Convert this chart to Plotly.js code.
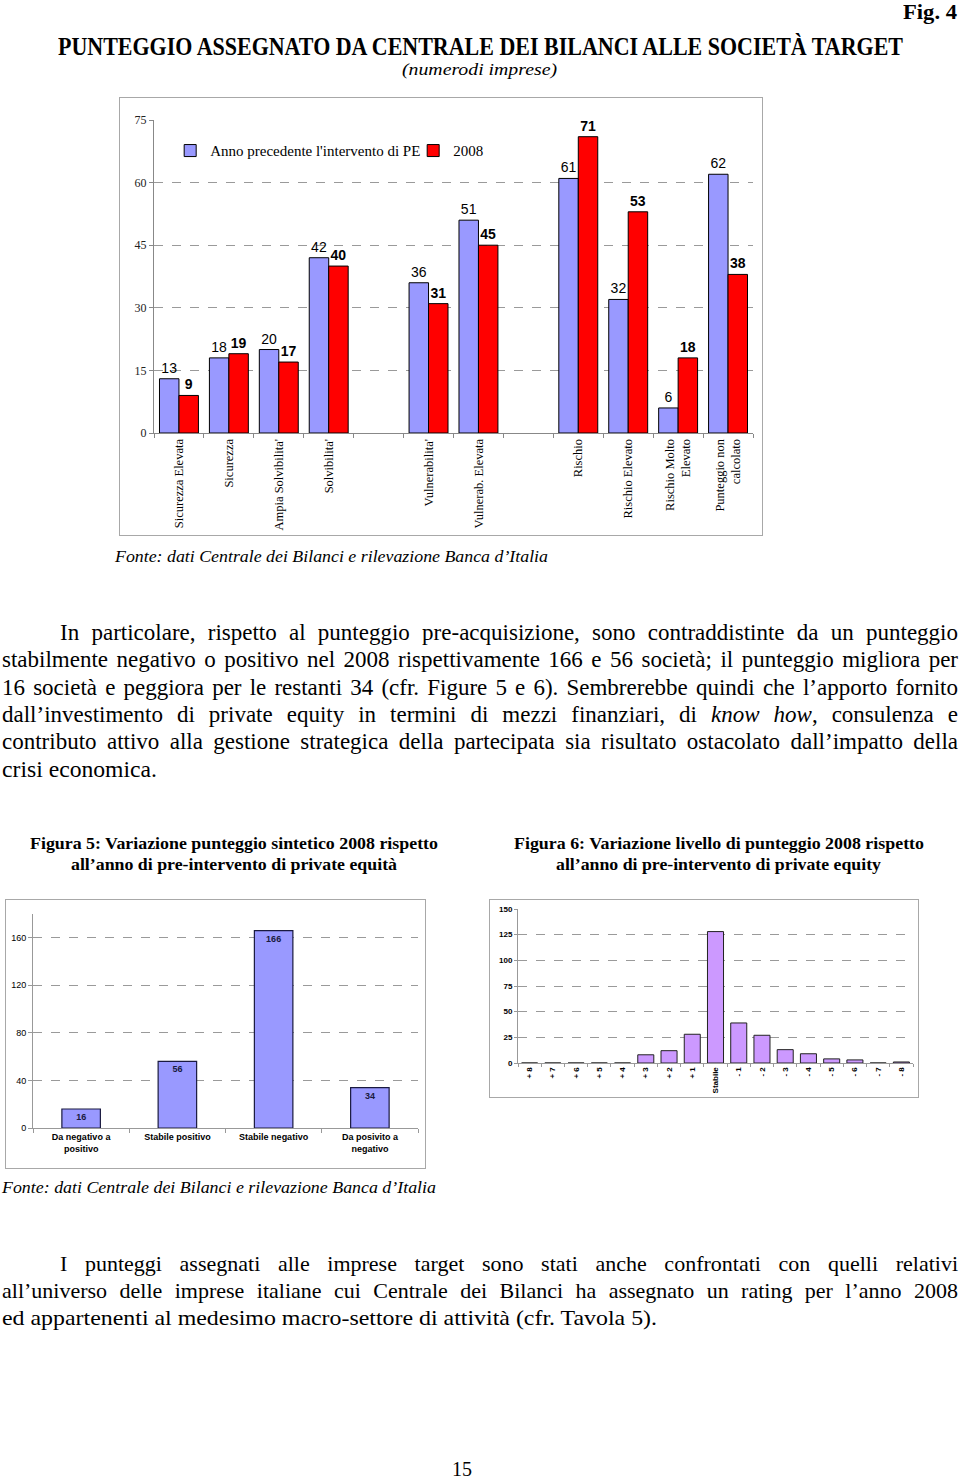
<!DOCTYPE html>
<html>
<head>
<meta charset="utf-8">
<script src="https://cdn.plot.ly/plotly-3.0.1.min.js"></script>
<style>
  html, body { margin:0; padding:0; background:#fff; }
  body { width:960px; height:1478px; position:relative; overflow:hidden;
         font-family:"Liberation Serif","Times New Roman",serif; color:#000; }
  .t { position:absolute; white-space:nowrap; line-height:1; transform-origin:0 0; }
  .jl { position:absolute; text-align:justify; text-align-last:justify; white-space:normal; }
  .plot { position:absolute; }
  .frame { position:absolute; border:1px solid #a8a8a8; box-sizing:border-box; pointer-events:none; }
</style>
</head>
<body>

<!-- Headings -->
<div class="t" style="left:903px; top:1px; font-size:22px; font-weight:bold;" data-w="54">Fig. 4</div>
<div class="t" style="left:58px; top:34px; font-size:25px; font-weight:bold;" data-w="845">PUNTEGGIO ASSEGNATO DA CENTRALE DEI BILANCI ALLE SOCIETÀ TARGET</div>
<div class="t" style="left:402px; top:61px; font-size:17px; font-style:italic;" data-w="155">(numerodi imprese)</div>

<!-- Figure 4 chart -->
<div id="fig4" class="plot" style="left:119px; top:98px; width:643px; height:437px;"></div>
<div class="frame" style="left:119px; top:97px; width:644px; height:439px;"></div>

<div class="t" style="left:115px; top:547.5px; font-size:17px; font-style:italic;" data-w="433">Fonte: dati Centrale dei Bilanci e rilevazione Banca d’Italia</div>

<!-- Paragraph 1 -->
<div class="jl" style="left:60px; width:898px; top:620.7px; font-size:23px; line-height:23px;">In particolare, rispetto al punteggio pre-acquisizione, sono contraddistinte da un punteggio</div>
<div class="jl" style="left:2px; width:956px; top:648.1px; font-size:23px; line-height:23px;">stabilmente negativo o positivo nel 2008 rispettivamente 166 e 56 società; il punteggio migliora per</div>
<div class="jl" style="left:2px; width:956px; top:675.5px; font-size:23px; line-height:23px;">16 società e peggiora per le restanti 34 (cfr. Figure 5 e 6). Sembrerebbe quindi che l’apporto fornito</div>
<div class="jl" style="left:2px; width:956px; top:702.9px; font-size:23px; line-height:23px;">dall’investimento di private equity in termini di mezzi finanziari, di <i>know how</i>, consulenza e</div>
<div class="jl" style="left:2px; width:956px; top:730.3px; font-size:23px; line-height:23px;">contributo attivo alla gestione strategica della partecipata sia risultato ostacolato dall’impatto della</div>
<div class="t" style="left:2px; top:757.7px; font-size:23px;" data-w="155">crisi economica.</div>

<!-- Captions -->
<div class="t" style="left:30px; top:835.4px; font-size:17.5px; font-weight:bold;" data-w="408">Figura 5: Variazione punteggio sintetico 2008 rispetto</div>
<div class="t" style="left:71px; top:856.4px; font-size:17.5px; font-weight:bold;" data-w="326">all’anno di pre-intervento di private equità</div>
<div class="t" style="left:514px; top:835.4px; font-size:17.5px; font-weight:bold;" data-w="410">Figura 6: Variazione livello di punteggio 2008 rispetto</div>
<div class="t" style="left:556px; top:856.4px; font-size:17.5px; font-weight:bold;" data-w="325">all’anno di pre-intervento di private equity</div>

<!-- Figure 5 chart -->
<div id="fig5" class="plot" style="left:5px; top:899px; width:420px; height:269px;"></div>
<div class="frame" style="left:5px; top:899px; width:421px; height:270px;"></div>

<!-- Figure 6 chart -->
<div id="fig6" class="plot" style="left:490px; top:899px; width:428px; height:198px;"></div>
<div class="frame" style="left:489px; top:899px; width:430px; height:199px;"></div>

<div class="t" style="left:2px; top:1179px; font-size:17px; font-style:italic;" data-w="434">Fonte: dati Centrale dei Bilanci e rilevazione Banca d’Italia</div>

<!-- Paragraph 2 -->
<div class="jl" style="left:60px; width:898px; top:1252.6px; font-size:22px; line-height:22px;">I punteggi assegnati alle imprese target sono stati anche confrontati con quelli relativi</div>
<div class="jl" style="left:2px; width:956px; top:1279.6px; font-size:22px; line-height:22px;">all’universo delle imprese italiane cui Centrale dei Bilanci ha assegnato un rating per l’anno 2008</div>
<div class="t" style="left:2px; top:1306.6px; font-size:22px;" data-w="655">ed appartenenti al medesimo macro-settore di attività (cfr. Tavola 5).</div>

<div class="t" style="left:452px; top:1459.3px; font-size:20px;">15</div>

<script>
// ---------------- Figure 4 data ----------------
const fig4Categories = ["Sicurezza Elevata", "Sicurezza", "Ampia Solvibilita'", "Solvibilita'",
  "Vulnerabilita'", "Vulnerab. Elevata", "Rischio", "Rischio Elevato",
  "Rischio Molto<br>Elevato", "Punteggio non<br>calcolato"];
const fig4AxisOrder = ["Sicurezza Elevata", "Sicurezza", "Ampia Solvibilita'", "Solvibilita'", " ",
  "Vulnerabilita'", "Vulnerab. Elevata", "  ", "Rischio", "Rischio Elevato",
  "Rischio Molto<br>Elevato", "Punteggio non<br>calcolato"];
const fig4SeriesNames = ["Anno precedente l'intervento di PE", "2008"];
const fig4Before = [13, 18, 20, 42, 36, 51, 61, 32, 6, 62];
const fig4Year2008 = [9, 19, 17, 40, 31, 45, 71, 53, 18, 38];
const fig4YTicks = [0, 15, 30, 45, 60, 75];

// ---------------- Figure 5 data ----------------
const fig5Categories = ["Da negativo a<br>positivo", "Stabile positivo", "Stabile negativo", "Da posivito a<br>negativo"];
const fig5Values = [16, 56, 166, 34];
const fig5YTicks = [0, 40, 80, 120, 160];

// ---------------- Figure 6 data ----------------
const fig6Categories = ["+ 8", "+ 7", "+ 6", "+ 5", "+ 4", "+ 3", "+ 2", "+ 1", "Stabile",
  "- 1", "- 2", "- 3", "- 4", "- 5", "- 6", "- 7", "- 8"];
const fig6Values = [0, 0, 0, 0, 0, 8, 12, 28, 128, 39, 27, 13, 9, 4, 3, 0, 1];
const fig6YTicks = [0, 25, 50, 75, 100, 125, 150];

const SERIF = "Liberation Serif, Times New Roman, serif";
const SANS = "Liberation Sans, Arial, sans-serif";
const cfg = {displayModeBar: false, staticPlot: true};

// ---------- Fig 4 ----------
Plotly.newPlot('fig4', [
  {
    type: 'bar', name: fig4SeriesNames[0], x: fig4Categories, y: fig4Before,
    marker: {color: '#9999FF', line: {color: '#000000', width: 1}},
    texttemplate: '%{y}', textposition: 'outside', cliponaxis: false, constraintext: 'none',
    textfont: {family: SANS, size: 14, color: '#000'}
  },
  {
    type: 'bar', name: fig4SeriesNames[1], x: fig4Categories, y: fig4Year2008,
    marker: {color: '#FF0000', line: {color: '#000000', width: 1}},
    texttemplate: '<b>%{y}</b>', textposition: 'outside', cliponaxis: false, constraintext: 'none',
    textfont: {family: SANS, size: 14, color: '#000'}
  }
], {
  width: 643, height: 437,
  margin: {l: 35, r: 9, t: 22, b: 102, pad: 0},
  paper_bgcolor: 'rgba(0,0,0,0)', plot_bgcolor: '#ffffff',
  barmode: 'group', bargap: 0.22, bargroupgap: 0,
  showlegend: true,
  legend: {orientation: 'h', x: 0.027, xanchor: 'left', y: 0.9016, yanchor: 'middle',
           font: {family: SERIF, size: 15, color: '#000'}, bgcolor: 'rgba(0,0,0,0)',
           traceorder: 'normal', itemwidth: 30, entrywidth: 198, entrywidthmode: 'pixels'},
  font: {family: SERIF, color: '#000'},
  xaxis: {type: 'category', categoryorder: 'array', categoryarray: fig4AxisOrder,
          tickangle: -90, tickfont: {family: SERIF, size: 12.5, color: '#000'},
          ticks: 'outside', tickson: 'boundaries', ticklen: 4, tickcolor: '#888',
          showline: true, linecolor: '#888', linewidth: 1, showgrid: false, fixedrange: true},
  yaxis: {range: [0, 75], tickvals: fig4YTicks, tickfont: {family: SERIF, size: 12, color: '#222'},
          ticks: 'outside', ticklen: 4, tickcolor: '#888', showline: true, linecolor: '#888',
          showgrid: true, gridcolor: '#9a9a9a', griddash: 'dash', gridwidth: 1, zeroline: false}
}, cfg);

// ---------- Fig 5 ----------
Plotly.newPlot('fig5', [{
  type: 'bar', x: fig5Categories, y: fig5Values,
  marker: {color: '#9999FF', line: {color: '#1a1a40', width: 1.2}},
  texttemplate: '<b>%{y}</b>', textposition: 'inside', insidetextanchor: 'end', constraintext: 'none',
  textfont: {family: SANS, size: 9, color: '#1a1a40'}
}], {
  width: 420, height: 269,
  margin: {l: 28, r: 7, t: 15, b: 40, pad: 0},
  paper_bgcolor: 'rgba(0,0,0,0)', plot_bgcolor: '#ffffff',
  bargap: 0.6, showlegend: false,
  xaxis: {type: 'category', tickfont: {family: SANS, size: 9, color: '#000', weight: 'bold'},
          ticks: 'outside', tickson: 'boundaries', ticklen: 4, tickcolor: '#999',
          showline: true, linecolor: '#999', showgrid: false},
  yaxis: {range: [0, 180], tickvals: fig5YTicks, tickfont: {family: SANS, size: 9, color: '#000'},
          ticks: 'outside', ticklen: 4, tickcolor: '#999', showline: true, linecolor: '#999',
          showgrid: true, gridcolor: '#9a9a9a', griddash: 'dash', zeroline: false}
}, cfg);

// ---------- Fig 6 ----------
Plotly.newPlot('fig6', [{
  type: 'bar', x: fig6Categories, y: fig6Values,
  marker: {color: '#CC99FF', line: {color: '#222', width: 1}}
}], {
  width: 428, height: 198,
  margin: {l: 28, r: 5, t: 10, b: 34, pad: 0},
  paper_bgcolor: 'rgba(0,0,0,0)', plot_bgcolor: '#ffffff',
  bargap: 0.31, showlegend: false,
  xaxis: {type: 'category', tickangle: -90, tickfont: {family: SANS, size: 8, color: '#000', weight: 'bold'},
          ticks: 'outside', tickson: 'boundaries', ticklen: 3, tickcolor: '#999',
          showline: true, linecolor: '#999', showgrid: false},
  yaxis: {range: [0, 150], tickvals: fig6YTicks, tickfont: {family: SANS, size: 8, color: '#000', weight: 'bold'},
          ticks: 'outside', ticklen: 3, tickcolor: '#999', showline: true, linecolor: '#999',
          showgrid: true, gridcolor: '#9a9a9a', griddash: 'dash', zeroline: false}
}, cfg);

// ---------- text fitting ----------
document.querySelectorAll('[data-w]').forEach(function (el) {
  const w = el.getBoundingClientRect().width;
  const target = parseFloat(el.dataset.w);
  if (w > 0) el.style.transform = 'scaleX(' + (target / w) + ')';
});
document.querySelectorAll('.jl').forEach(function (el) {
  let fs = parseFloat(el.style.fontSize);
  while (el.scrollHeight > fs * 1.5 && fs > 10) {
    fs -= 0.5;
    el.style.fontSize = fs + 'px';
    el.style.lineHeight = fs + 'px';
  }
});
</script>
</body>
</html>
